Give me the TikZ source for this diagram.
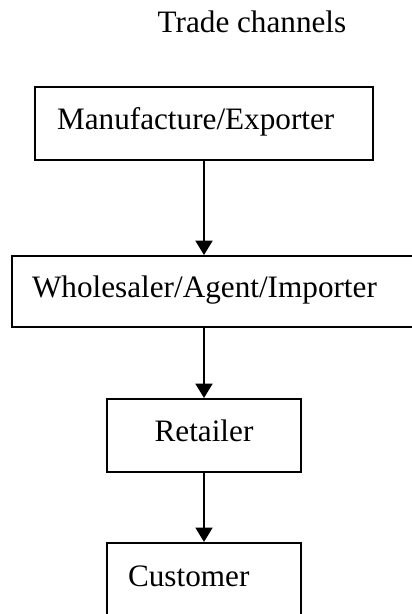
\documentclass[tikz,border=0pt]{standalone}
\usepackage{fontspec}
\setmainfont{Liberation Serif}
\usetikzlibrary{arrows.meta}

\begin{document}
\begin{tikzpicture}[x=0.3846pt, y=0.3846pt,
	chanbox/.style={draw, line width=0.75pt, font=\fontsize{12}{14}\selectfont,
		text height=7pt, text depth=2.5pt, align=left},
	flow/.style={line width=0.75pt, -{Triangle[length=5.5pt, width=6.5pt]}}]
	\useasboundingbox (0,0) rectangle (412,-614);
	\clip (0,0) rectangle (412,-614);
	% titulo
	\node[font=\fontsize{12}{14}\selectfont, anchor=base] (title) at (252,-33) {Trade channels};
	% cajas del canal
	\node[chanbox, minimum width=130pt, minimum height=28.1pt, text width=113pt, inner xsep=8.5pt] (manu) at (204,-123.5) {Manufacture/Exporter};
	\node[chanbox, minimum width=156.9pt, minimum height=27.3pt, text width=141.5pt, inner xsep=7.7pt] (whole) at (216,-291.5) {Wholesaler/Agent/Importer};
	\node[chanbox, minimum width=74.4pt, minimum height=28.1pt] (retail) at (204,-435.5) {Retailer};
	\node[chanbox, minimum width=74.6pt, minimum height=28.9pt, text width=58.4pt, inner xsep=8.1pt] (cust) at (204,-580.5) {Customer};
	% flechas
	\draw[flow] (manu) -- (manu.south |- whole.north);
	\draw[flow] (whole.south -| retail.north) -- (retail);
	\draw[flow] (retail) -- (cust);
\end{tikzpicture}
\end{document}
